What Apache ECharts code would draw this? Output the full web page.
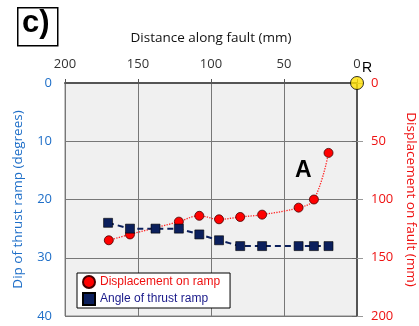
<!DOCTYPE html>
<html><head><meta charset="utf-8">
<script src="https://cdn.jsdelivr.net/npm/echarts@6/dist/echarts.min.js"></script>
<style>html,body{margin:0;padding:0;background:#fff}#c{width:419px;height:326px}</style>
</head><body><div id="c"></div>
<script>
// Distance along fault (mm)
const dispDistance = [170, 155.5, 122, 108, 94.5, 80, 65, 40, 29.5, 19.5];
// Displacement on ramp (mm), right axis
const dispValues = [135, 130, 119, 114, 117, 115, 113, 107, 100, 60];
const angleDistance = [170.5, 155.5, 138, 122, 108, 94.5, 80, 65, 40, 29.5, 19.5];
// Angle of thrust ramp (degrees), left axis
const angleValues = [24, 25, 25, 25, 26, 27, 28, 28, 28, 28, 28];
const refPoint = [[0, 0]];
const xTicks = [0, 50, 100, 150, 200];
const leftTicks = [0, 10, 20, 30, 40];
const rightTicks = [0, 50, 100, 150, 200];

const chart = echarts.init(document.getElementById('c'));
const font = '"Open Sans", "Noto Sans", sans-serif';
const arial = '"Liberation Sans", Arial, sans-serif';
chart.setOption({
  animation: false,
  grid: {left: 65, right: 62, top: 83, bottom: 10, containLabel: false, outerBoundsMode: 'none',
         show: true, backgroundColor: '#f0f0f0', borderColor: '#888', borderWidth: 1},
  xAxis: {
    type: 'value', position: 'top', inverse: true,
    min: xTicks[0], max: xTicks[xTicks.length-1], interval: 50,
    name: 'Distance along fault (mm)', nameLocation: 'middle', nameGap: 38,
    nameTextStyle: {color: '#111', fontSize: 13.5, fontFamily: font},
    axisLine: {show: true, lineStyle: {color: '#555', width: 2}},
    axisTick: {show: true, length: 4, lineStyle: {color: '#555'}},
    axisLabel: {color: '#333', fontSize: 13, margin: 12, fontFamily: font},
    splitLine: {show: true, lineStyle: {color: '#777', width: 1}}
  },
  yAxis: [{
    type: 'value', position: 'left', inverse: true,
    min: leftTicks[0], max: leftTicks[leftTicks.length-1], interval: 10,
    name: 'Dip of thrust ramp (degrees)', nameLocation: 'middle', nameGap: 40, nameRotate: 90,
    nameTextStyle: {color: '#1f6fc8', fontSize: 13.5, fontFamily: font},
    axisLine: {show: true, lineStyle: {color: '#888', width: 1}},
    axisTick: {show: true, length: 5, lineStyle: {color: '#666'}},
    axisLabel: {color: '#1f6fc8', fontSize: 13, margin: 13, fontFamily: font},
    splitLine: {show: true, lineStyle: {color: '#777', width: 1}}
  }, {
    type: 'value', position: 'right', inverse: true,
    min: rightTicks[0], max: rightTicks[rightTicks.length-1], interval: 50,
    name: 'Displacement on fault (mm)', nameLocation: 'middle', nameGap: 40, nameRotate: -90,
    nameTextStyle: {color: '#ee1111', fontSize: 13.5, fontFamily: font},
    axisLine: {show: true, lineStyle: {color: '#555', width: 2}},
    axisTick: {show: true, length: 6, lineStyle: {color: '#999'}},
    axisLabel: {color: '#ee1111', fontSize: 13, margin: 14, fontFamily: font},
    splitLine: {show: false}
  }],
  legend: {
    left: 77, top: 273, orient: 'vertical',
    backgroundColor: '#fff', borderColor: '#000', borderWidth: 1, borderRadius: 0,
    padding: [2, 10, 2, 5], itemGap: 3, itemWidth: 12, itemHeight: 12,
    textStyle: {fontSize: 12, fontFamily: arial},
    data: [
      {name: 'Displacement on ramp', icon: 'circle', textStyle: {color: '#ee1111'}},
      {name: 'Angle of thrust ramp', icon: 'rect', textStyle: {color: '#1a1a8a'}}
    ]
  },
  series: [{
    name: 'Displacement on ramp', type: 'line', yAxisIndex: 1, smooth: 0.4,
    data: dispDistance.map((d, i) => [d, dispValues[i]]),
    symbol: 'circle', symbolSize: 9,
    itemStyle: {color: '#ff0000', borderColor: '#400', borderWidth: 0.8},
    lineStyle: {color: '#ff2020', width: 1.3, type: 'dotted'}
  }, {
    name: 'Angle of thrust ramp', type: 'line', yAxisIndex: 0,
    data: angleDistance.map((d, i) => [d, angleValues[i]]),
    symbol: 'rect', symbolSize: 9,
    itemStyle: {color: '#0b1f5c', borderColor: '#000', borderWidth: 0.6},
    lineStyle: {color: '#0b1f5c', width: 2, type: [6, 4]}
  }, {
    name: 'R', type: 'scatter', yAxisIndex: 0, data: refPoint, clip: false,
    symbolSize: 13, itemStyle: {color: '#ffe000', borderColor: '#000', borderWidth: 1}
  }],
  graphic: [
    {type: 'rect', left: 17, top: 7, shape: {width: 40, height: 38}, style: {fill: '#fff', stroke: '#000', lineWidth: 1.5}},
    {type: 'text', left: 22, top: 8, style: {text: 'c)', font: 'bold 31px ' + arial, fill: '#000'}},
    {type: 'text', left: 362, top: 61, style: {text: 'R', font: '14px ' + arial, fill: '#000'}},
    {type: 'text', left: 295, top: 159, style: {text: 'A', font: 'bold 23px ' + arial, fill: '#000'}}
  ]
});
</script></body></html>
